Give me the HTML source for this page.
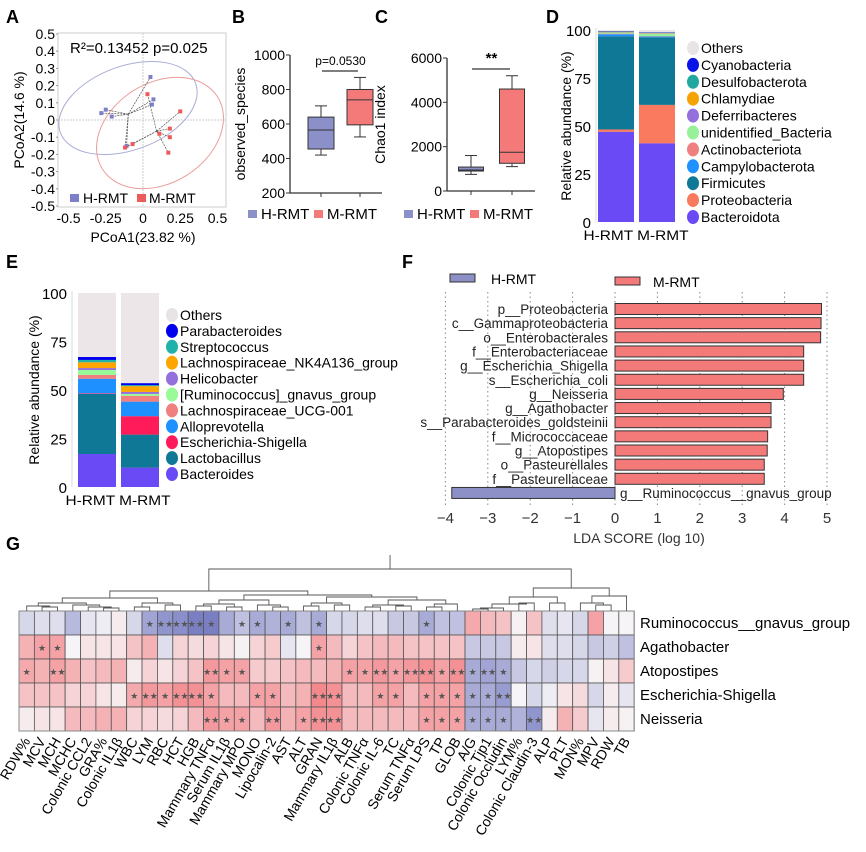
<!DOCTYPE html>
<html><head><meta charset="utf-8"><style>
body{margin:0;background:#fff}
svg{display:block;font-family:"Liberation Sans",Arial,sans-serif}
</style></head><body>
<svg id="fig" width="866" height="852" viewBox="0 0 866 852" xmlns="http://www.w3.org/2000/svg">
<g font-weight="bold" font-size="18">
<text x="6" y="23">A</text><text x="232" y="23">B</text><text x="375" y="23">C</text><text x="546" y="23">D</text>
<text x="6" y="268">E</text><text x="402" y="268">F</text><text x="6" y="550">G</text>
</g>
<g id="pA"></g>
<g id="pB"></g>
<g id="pC"></g>
<g id="pD"></g>
<g id="pE"></g>
<g id="pF"></g>
<g id="pG"></g>
</svg>
<script>
const NS="http://www.w3.org/2000/svg";
function mk(p,tag,at,txt){const e=document.createElementNS(NS,tag);for(const k in at)e.setAttribute(k,at[k]);if(txt!==undefined)e.textContent=txt;p.appendChild(e);return e;}
const BLUE="#8b90c8",RED="#f47a7a";

// ---------- A: PCoA ----------
const pcoaBlueX=[0.05,0.07,0.06,-0.25,-0.28,-0.21,-0.11,-0.12];
const pcoaBlueY=[0.25,0.12,0.09,0.06,0.04,0.02,-0.15,-0.16];
const pcoaRedX=[0.03,0.25,0.18,0.18,0.11,-0.07,-0.12,0.17];
const pcoaRedY=[0.15,0.05,-0.05,-0.10,-0.08,-0.14,-0.16,-0.19];
const pcoaTicks=[-0.5,-0.4,-0.3,-0.2,-0.1,0,0.1,0.2,0.3,0.4,0.5];
const pcoaXTicks=[-0.5,-0.25,0,0.25,0.5];
(function(){
const g=document.getElementById('pA');
const X=v=>143+v*149, Y=v=>120-v*172;
mk(g,'rect',{x:58,y:33,width:168,height:174,fill:'none',stroke:'#ccc'});
mk(g,'line',{x1:X(0),x2:X(0),y1:33,y2:207,stroke:'#ccc','stroke-dasharray':'2,1'});
mk(g,'line',{x1:58,x2:226,y1:Y(0),y2:Y(0),stroke:'#ccc','stroke-dasharray':'2,1'});
const e1=mk(g,'ellipse',{cx:128,cy:108,rx:72,ry:42,transform:'rotate(-20 128 108)',fill:'none',stroke:'#a9acd6'});

const e2=mk(g,'ellipse',{cx:160,cy:133,rx:68,ry:50,transform:'rotate(-32 160 133)',fill:'none',stroke:'#eb9a9a'});

function grp(xs,ys,col,name){
 const cx=xs.reduce((a,b)=>a+b)/xs.length, cy=ys.reduce((a,b)=>a+b)/ys.length;
 xs.forEach((x,i)=>{mk(g,'line',{x1:X(cx),y1:Y(cy),x2:X(x),y2:Y(ys[i]),stroke:'#555','stroke-width':0.7,'stroke-dasharray':'2,1'});});
 xs.forEach((x,i)=>{const r=mk(g,'rect',{x:X(x)-2,y:Y(ys[i])-2,width:4,height:4,fill:col});
 });
}
grp(pcoaBlueX,pcoaBlueY,'#7d80c8','h-rmt');grp(pcoaRedX,pcoaRedY,'#ee5a5a','m-rmt');
pcoaTicks.forEach(t=>{mk(g,'text',{x:55,y:Y(t)+5,'font-size':14,'text-anchor':'end'},String(t));mk(g,'line',{x1:56,x2:58,y1:Y(t),y2:Y(t),stroke:'#999'});});
pcoaXTicks.forEach(t=>{mk(g,'text',{x:X(t),y:223,'font-size':14,'text-anchor':'middle'},String(t));});
mk(g,'text',{x:70,y:53,'font-size':15},'R²=0.13452 p=0.025');
mk(g,'rect',{x:70,y:194,width:9,height:8,fill:'#7d80c8'});mk(g,'text',{x:83,y:203,'font-size':14},'H-RMT');
mk(g,'rect',{x:137,y:194,width:9,height:8,fill:'#ee5a5a'});mk(g,'text',{x:149,y:203,'font-size':14},'M-RMT');
const xt=mk(g,'text',{x:143,y:242,'font-size':14,'text-anchor':'middle'},'PCoA1(23.82 %)');
const yt=mk(g,'text',{x:0,y:0,'font-size':14,'text-anchor':'middle',transform:'translate(24 120) rotate(-90)'},'PCoA2(14.6 %)');
})();

// ---------- boxplots ----------
const groups=['H-RMT','M-RMT'];
const obsMin=[420,525],obsQ1=[455,595],obsMed=[565,740],obsQ3=[640,800],obsMax=[705,870];
const obsTicks=[200,400,600,800,1000];
const chaoMin=[750,1100],chaoQ1=[900,1250],chaoMed=[950,1750],chaoQ3=[1080,4600],chaoMax=[1600,5200];
const chaoTicks=[0,2000,4000,6000];
function box(id,o){
 const g=document.getElementById(id);
 const Y=v=>o.y0-(v-o.min)/(o.max-o.min)*(o.y0-o.y1);
 mk(g,'line',{x1:o.ax,x2:o.ax,y1:o.y1,y2:o.y0,stroke:'#333','stroke-width':1.3});
 mk(g,'line',{x1:o.ax,x2:o.ax2,y1:o.y0,y2:o.y0,stroke:'#333','stroke-width':1.3});
 o.ticks.forEach(t=>{mk(g,'line',{x1:o.ax-4,x2:o.ax,y1:Y(t),y2:Y(t),stroke:'#333'});mk(g,'text',{x:o.ax-5,y:Y(t)+5,'font-size':14,'text-anchor':'end'},String(t));});
 const cols=[BLUE,RED];
 for(let i=0;i<2;i++){
  const c=o.cx[i],w=o.w;
  mk(g,'line',{x1:c,x2:c,y1:o.y0,y2:o.y0+4,stroke:'#333'});
  mk(g,'line',{x1:c,x2:c,y1:Y(o.mn[i]),y2:Y(o.mx[i]),stroke:'#333'});
  mk(g,'line',{x1:c-6,x2:c+6,y1:Y(o.mn[i]),y2:Y(o.mn[i]),stroke:'#333'});
  mk(g,'line',{x1:c-6,x2:c+6,y1:Y(o.mx[i]),y2:Y(o.mx[i]),stroke:'#333'});
  const r=mk(g,'rect',{x:c-w/2,y:Y(o.q3[i]),width:w,height:Y(o.q1[i])-Y(o.q3[i]),fill:cols[i],stroke:'#333'});
  
  mk(g,'line',{x1:c-w/2,x2:c+w/2,y1:Y(o.md[i]),y2:Y(o.md[i]),stroke:'#333'});
 }
 mk(g,'line',{x1:o.cx[0]+1,x2:o.cx[1]-2,y1:o.by,y2:o.by,stroke:'#333','stroke-width':1.3});
 mk(g,'text',{x:(o.cx[0]+o.cx[1])/2,y:o.by-6,'font-size':o.sigSize,'text-anchor':'middle','font-weight':o.sigBold?'bold':'normal'},o.sig);
 const yt=mk(g,'text',{'font-size':14,'text-anchor':'middle',transform:`translate(${o.tx} ${(o.y0+o.y1)/2}) rotate(-90)`},o.title);
 
 mk(g,'rect',{x:o.lx,y:210,width:9,height:8,fill:BLUE});mk(g,'text',{x:o.lx+13,y:219,'font-size':15},'H-RMT');
 mk(g,'rect',{x:o.lx+66,y:210,width:9,height:8,fill:RED});mk(g,'text',{x:o.lx+79,y:219,'font-size':15},'M-RMT');
}
box('pB',{min:200,max:1000,y0:193,y1:55,ax:290,ax2:382,cx:[321,360],w:26,mn:obsMin,q1:obsQ1,md:obsMed,q3:obsQ3,mx:obsMax,ticks:obsTicks,by:71,sig:'p=0.0530',sigSize:12,tx:245,title:'observed_species',lx:248});
box('pC',{min:0,max:6000,y0:191,y1:58,ax:447,ax2:535,cx:[471,512],w:25,mn:chaoMin,q1:chaoQ1,md:chaoMed,q3:chaoQ3,mx:chaoMax,ticks:chaoTicks,by:69,sig:'**',sigSize:15,sigBold:true,tx:385,title:'Chao1 index',lx:404});

// ---------- stacked bars ----------
const phyla=['Bacteroidota','Proteobacteria','Firmicutes','Campylobacterota','Actinobacteriota','unidentified_Bacteria','Deferribacteres','Chlamydiae','Desulfobacterota','Cyanobacteria'];
const phylaColors=['#6a4af5','#fa7a60','#0f7896','#1e90ff','#f08080','#98f098','#9370db','#f5a300','#20a8a0','#0a14e6'];
const phylaH=[47,1.2,48.5,1.1,0.3,0.6,0.2,0.2,0.1,0.2];
const phylaM=[41,20,35.2,0.4,0.2,1.3,0.2,0.2,0.1,0.2];
const genera=['Bacteroides','Lactobacillus','Escherichia-Shigella','Alloprevotella','Lachnospiraceae_UCG-001','[Ruminococcus]_gnavus_group','Helicobacter','Lachnospiraceae_NK4A136_group','Streptococcus','Parabacteroides'];
const generaColors=['#6a4af5','#0f7896','#ff1a5a','#1e90ff','#f08080','#98fb98','#9370db','#ffa500','#20b2aa','#0000ee'];
const generaH=[17,31,0.3,7.5,2,2.5,1,3,1.2,1.5];
const generaM=[10,17,9.5,7.5,3,1,1,3,0.5,1];
const abTicks=[0,25,50,75,100];
function stack(id,o){
 const g=document.getElementById(id);
 const Y=v=>o.y0-v/100*(o.y0-o.y1);
 mk(g,'line',{x1:o.ax,x2:o.ax,y1:o.y1-2,y2:o.y0,stroke:'#e4e8ee','stroke-width':1.5});
 abTicks.forEach(t=>mk(g,'text',{x:o.ax-5,y:Y(t)+6,'font-size':15,'text-anchor':'end'},String(t)));
 [o.h,o.m].forEach((vals,i)=>{
  let acc=0;const x=o.bx[i];
  mk(g,'rect',{x:x,y:Y(100),width:o.bw,height:Y(0)-Y(100),fill:'#ece6e8'});
  vals.forEach((v,k)=>{const r=mk(g,'rect',{x:x,y:Y(acc+v),width:o.bw,height:Y(acc)-Y(acc+v),fill:o.colors[k]});
   acc+=v;});
 });
 mk(g,'text',{x:o.bx[0]+o.bw+2,y:o.y0+18,'font-size':13.5,'text-anchor':'middle',textLength:105,lengthAdjust:'spacingAndGlyphs'},'H-RMT M-RMT');
 const yt=mk(g,'text',{'font-size':14,'text-anchor':'middle',transform:`translate(${o.tx} ${(o.y0+o.y1)/2}) rotate(-90)`},'Relative abundance (%)');
 
 const names=['Others'].concat(o.names.slice().reverse()),cols=['#e8e4e6'].concat(o.colors.slice().reverse());
 names.forEach((n,k)=>{const yy=o.ly+k*o.ls;
  const le=mk(g,'g',{});
  mk(le,'ellipse',{cx:o.lx,cy:yy,rx:6,ry:7,fill:cols[k]});mk(le,'text',{x:o.lx+8,y:yy+5,'font-size':14},n);});
}
stack('pD',{y0:222,y1:30,ax:596,bx:[598,639],bw:36,h:phylaH,m:phylaM,colors:phylaColors,names:phyla,tx:571,lx:693,ly:48,ls:16.9});
stack('pE',{y0:487,y1:293,ax:72,bx:[78,121],bw:38,h:generaH,m:generaM,colors:generaColors,names:genera,tx:39,lx:172,ly:315,ls:15.9});

// ---------- F: LDA ----------
const ldaTaxa=['p__Proteobacteria','c__Gammaproteobacteria','o__Enterobacterales','f__Enterobacteriaceae','g__Escherichia_Shigella','s__Escherichia_coli','g__Neisseria','g__Agathobacter','s__Parabacteroides_goldsteinii','f__Micrococcaceae','g__Atopostipes','o__Pasteurellales','f__Pasteurellaceae','g__Ruminococcus__gnavus_group'];
const ldaScores=[4.87,4.86,4.85,4.45,4.45,4.45,3.97,3.68,3.68,3.6,3.59,3.52,3.52,-3.85];
const ldaTicks=[-4,-3,-2,-1,0,1,2,3,4,5];
(function(){
 const g=document.getElementById('pF');
 const X=v=>615+v*42.4, Yc=i=>309+i*14.15;
 ldaTicks.forEach(t=>{mk(g,'line',{x1:X(t),x2:X(t),y1:292,y2:506,stroke:'#888','stroke-dasharray':'1.5,3'});
  mk(g,'text',{x:X(t),y:523,'font-size':15,'text-anchor':'middle','fill':'#333'},t<0?'−'+(-t):String(t));});
 ldaScores.forEach((v,i)=>{
  const r=mk(g,'rect',{x:Math.min(X(0),X(v)),y:Yc(i)-5.5,width:Math.abs(X(v)-X(0)),height:11,fill:v>0?'#f47a7a':'#8c90c6',stroke:'#333','stroke-width':1});
  
  if(v>0)mk(g,'text',{x:608,y:Yc(i)+5,'font-size':13.5,'text-anchor':'end',fill:'#222'},ldaTaxa[i]);
  else mk(g,'text',{x:620,y:Yc(i)+5,'font-size':13.5,fill:'#222'},ldaTaxa[i]);
 });
 mk(g,'rect',{x:450,y:274,width:25,height:8,fill:'#8c90c6',stroke:'#333'});mk(g,'text',{x:491,y:284,'font-size':14},'H-RMT');
 mk(g,'rect',{x:615,y:277,width:25,height:8,fill:'#f47a7a',stroke:'#333'});mk(g,'text',{x:653,y:287,'font-size':14},'M-RMT');
 const xt=mk(g,'text',{x:639,y:543,'font-size':14,'text-anchor':'middle',fill:'#333'},'LDA SCORE (log 10)');
})();

// ---------- G: heatmap ----------
const hmCols=['RDW%','MCV','MCH','MCHC','Colonic CCL2','GRA%','Colonic IL1β','WBC','LYM','RBC','HCT','HGB','Mammary TNFα','Serum IL1β','Mammary MPO','MONO','Lipocalin-2','AST','ALT','GRAN','Mammary IL1β','ALB','Colonic TNFα','Colonic IL-6','TC','Serum TNFα','Serum LPS','TP','GLOB','A/G','Colonic Tjp1','Colonic Occludin','LYM%','Colonic Claudin-3','ALP','PLT','MON%','MPV','RDW','TB'];
const hmRows=['Ruminococcus__gnavus_group','Agathobacter','Atopostipes','Escherichia-Shigella','Neisseria'];
const hmR0=[-0.2,-0.15,-0.15,-0.4,-0.1,-0.05,0.05,-0.2,-0.55,-0.65,-0.7,-0.8,-0.8,-0.5,-0.35,-0.5,-0.45,-0.5,-0.35,-0.5,-0.2,-0.2,-0.15,-0.15,-0.3,-0.3,-0.5,-0.35,-0.35,0.45,0.35,0.3,0.02,0.3,-0.15,-0.1,-0.2,0.5,0,0];
const hmR1=[0.4,0.5,0.5,0,0.1,0.1,0.1,0.3,0.4,-0.15,0.2,0.15,0.2,0.1,0.02,0.2,0.25,-0.1,0,0.5,0.35,0.2,0.3,0.35,0.35,0.3,0.3,0.3,0.3,-0.3,-0.3,-0.3,0.05,0.1,-0.15,-0.15,-0.2,-0.3,-0.25,-0.35];
const hmR2=[0.45,0.4,0.5,0.4,0.3,0.35,0.4,0.05,0.2,0.1,0.2,0.3,0.55,0.5,0.5,0.25,0.25,0.3,0.35,0.35,0.4,0.5,0.5,0.55,0.5,0.55,0.6,0.5,0.6,-0.5,-0.55,-0.5,-0.3,-0.2,-0.25,-0.2,-0.2,0.02,0.1,0.25];
const hmR3=[0.3,0.3,0.3,0.2,0.2,0.1,0.05,0.45,0.55,0.5,0.6,0.6,0.5,0.35,0.35,0.5,0.5,0.35,0.4,0.65,0.6,0.35,0.35,0.5,0.5,0.35,0.5,0.5,0.5,-0.5,-0.5,-0.6,0,-0.2,-0.05,0.1,0.15,-0.2,0.05,-0.1];
const hmR4=[0.05,0.1,0.1,0.35,0.35,0.4,0.4,0.2,0.2,0.15,0.2,0.35,0.55,0.5,0.5,0.35,0.55,0.4,0.5,0.6,0.6,0.35,0.35,0.35,0.35,0.35,0.5,0.5,0.5,-0.5,-0.5,-0.5,-0.45,-0.65,0.05,0.4,0.25,-0.1,0.05,0.02];
const hmS0=['','','','','','','','','*','**','**','**','*','','*','*','','*','','*','','','','','','','*','','','','','','','','','','','','',''];
const hmS1=['','*','*','','','','','','','','','','','','','','','','','*','','','','','','','','','','','','','','','','','','','',''];
const hmS2=['*','','**','','','','','','','','','','**','*','*','','','','','','','*','*','**','*','**','**','*','**','*','**','*','','','','','','','',''];
const hmS3=['','','','','','','','*','**','*','**','**','*','','','*','*','','','**','**','','','*','*','','*','*','*','*','*','**','','','','','','','',''];
const hmS4=['','','','','','','','','','','','','**','*','*','','**','','*','**','**','','','','','','*','*','*','*','*','*','','**','','','','','',''];
(function(){
 const g=document.getElementById('pG');
 const x0=19,cw=15.38,y0=611,rh=24;
 const rows=[hmR0,hmR1,hmR2,hmR3,hmR4],stars=[hmS0,hmS1,hmS2,hmS3,hmS4];
 function col(v){const a=Math.min(1,Math.abs(v)/0.8);
  const t=v>=0?[242,112,116]:[122,127,196];
  const w=[246,244,246];
  return `rgb(${Math.round(w[0]+(t[0]-w[0])*a)},${Math.round(w[1]+(t[1]-w[1])*a)},${Math.round(w[2]+(t[2]-w[2])*a)})`;}
 rows.forEach((r,ri)=>r.forEach((v,ci)=>{
  const c=mk(g,'rect',{x:x0+ci*cw,y:y0+ri*rh,width:cw,height:rh,fill:col(v),stroke:'#555','stroke-width':0.8});
  
  if(stars[ri][ci])mk(g,'text',{x:x0+ci*cw+cw/2,y:y0+ri*rh+16,'font-size':9,'text-anchor':'middle',fill:'#555'},stars[ri][ci].replace(/\*/g,'★'));
 }));
 mk(g,'rect',{x:x0,y:y0,width:40*cw,height:5*rh,fill:'none',stroke:'#888'});
 hmRows.forEach((n,i)=>{const t=mk(g,'text',{x:640,y:y0+i*rh+17,'font-size':15},n);});
 hmCols.forEach((n,i)=>{const cx=x0+i*cw+cw/2+4;
  const t=mk(g,'text',{'font-size':14,'text-anchor':'end',transform:`translate(${cx} 741) rotate(-60)`},n);
  });
 const tree=[569,
  [591,[598,[603,[606,0,[607,1,2]],[605,3,[607,4,[608,5,6]]]],[603,[607,7,8],[605,9,10]]],
   [595,[600,[604,[606,11,12],[607,13,14]],[605,15,[607,16,17]]],[597,[603,[606,18,19],[605,20,21]],[600,[605,[607,22,23],[606,24,25]],[604,[607,26,27],28]]]]],
  [588,[597,[604,[608,[609,29,30],31],[603,32,33]],[603,34,35]],[596,[603,36,[605,37,38]],39]]];
 function draw(n){
  if(typeof n==='number')return {x:x0+n*cw+cw/2,y:y0};
  const a=draw(n[1]),b=draw(n[2]),h=n[0];
  mk(g,'path',{d:`M${a.x} ${a.y}V${h}H${b.x}V${b.y}`,fill:'none',stroke:'#555','stroke-width':0.9});
  return {x:(a.x+b.x)/2,y:h};
 }
 const root=draw(tree);
 mk(g,'line',{x1:root.x,x2:root.x,y1:root.y,y2:555,stroke:'#555','stroke-width':0.9});
})();
</script>
</body></html>
